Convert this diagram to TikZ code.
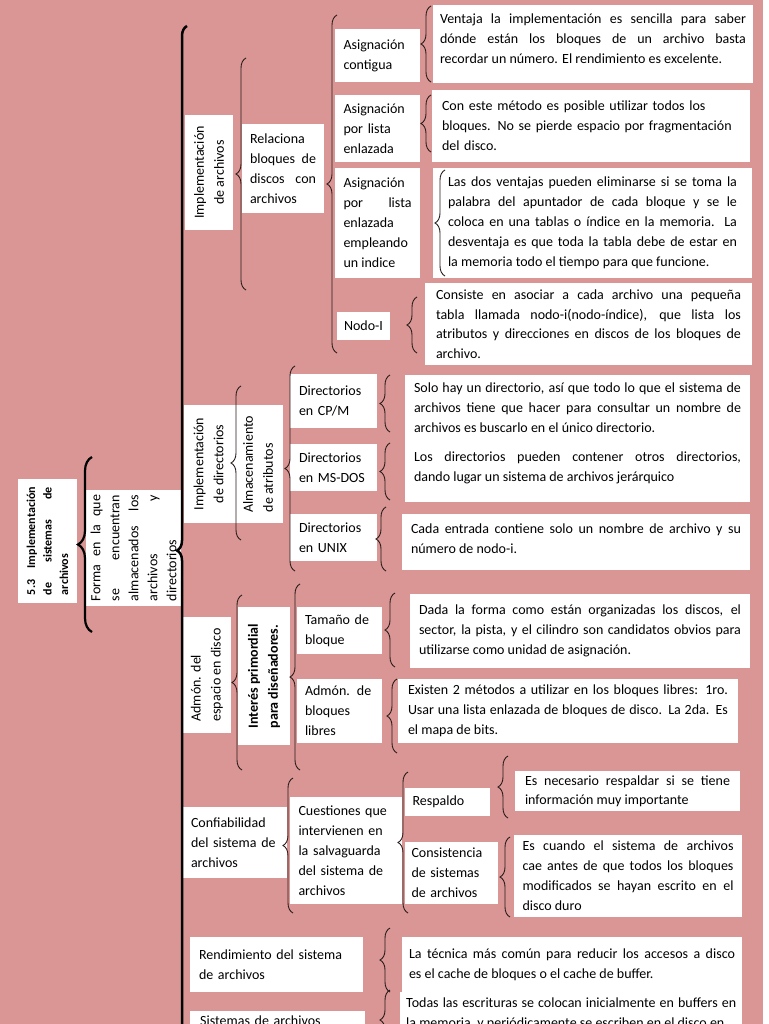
\documentclass[tikz,border=0pt]{standalone}
\usepackage{fontspec}
\setmainfont{Carlito}
\usetikzlibrary{decorations.pathreplacing}
\definecolor{rosa}{RGB}{217,150,148}
\definecolor{trazo}{RGB}{40,28,28}
\tikzset{
  caja/.style={fill=white, inner xsep=2pt, inner ysep=1pt, font=\fontsize{14}{20}\selectfont},
  just/.style={align=justify},
  izq/.style={align=left},
  llave/.style={decorate, decoration={brace, amplitude=#1}, draw=trazo, line width=0.9pt},
  llave/.default=10pt
}

\begin{document}
\begin{tikzpicture}[x=1pt,y=-1pt]
  \useasboundingbox (0,0) rectangle (768,1024);
  \clip (0,0) rectangle (768,1024);
  \fill[white] (0,0) rectangle (768,1024);
  \fill[rosa] (0,0) rectangle (763,1024);

  % Tema principal
  \node[caja, rotate=90, just, minimum width=124pt, minimum height=59pt, text width=108pt,
        font=\bfseries\fontsize{12}{16.5}\selectfont] (raiz) at (47.5,541)
        {5.3 Implementación\linebreak de sistemas de\linebreak archivos};
  \node[caja, rotate=90, just, minimum width=116pt, minimum height=95pt, text width=106pt,
        font=\fontsize{14}{19}\selectfont] (forma) at (133.5,548)
        {Forma en la que\linebreak se encuentran\linebreak almacenados los\linebreak archivos y\linebreak directorios};

  % Implementacion de archivos
  \node[caja, rotate=90, align=center, minimum width=115pt, minimum height=48pt] (impArch) at (209,172.5)
        {Implementación\\de archivos};
  \node[caja, just, minimum width=82pt, minimum height=89pt, text width=66pt] (relac) at (283,168.5)
        {Relaciona\linebreak bloques de\linebreak discos con\linebreak archivos};
  \node[caja, izq, minimum width=85pt, minimum height=53pt, text width=68pt] (asigCont) at (377.5,55.5)
        {Asignación\\contigua};
  \node[caja, just, minimum width=320pt, minimum height=78pt, text width=306pt] (descCont) at (593,44)
        {Ventaja la implementación es sencilla para saber\linebreak dónde están los bloques de un archivo basta\linebreak recordar un número. El rendimiento es excelente.\par\kern10pt};
  \node[caja, izq, minimum width=85pt, minimum height=67pt, text width=68pt] (asigLista) at (377.5,128.5)
        {Asignación\\por lista\\enlazada};
  \node[caja, izq, minimum width=318pt, minimum height=72pt, text width=298pt] (descLista) at (591,126)
        {Con este método es posible utilizar todos los\\bloques. No se pierde espacio por fragmentación\\del disco.};
  \node[caja, just, minimum width=85pt, minimum height=110pt, text width=68pt] (asigIndice) at (377.5,223)
        {Asignación\linebreak por lista\linebreak enlazada\linebreak empleando\linebreak un indice};
  \node[caja, just, minimum width=319pt, minimum height=110pt, text width=289pt] (descIndice) at (592.5,223)
        {Las dos ventajas pueden eliminarse si se toma la\linebreak palabra del apuntador de cada bloque y se le\linebreak coloca en una tablas o índice en la memoria. La\linebreak desventaja es que toda la tabla debe de estar en\linebreak la memoria todo el tiempo para que funcione.};
  \node[caja, minimum width=53pt, minimum height=28pt] (nodoI) at (363.5,326) {Nodo-I};
  \node[caja, just, minimum width=327pt, minimum height=82pt, text width=305pt,
        font=\fontsize{14}{19.5}\selectfont] (descNodo) at (588.5,324)
        {Consiste en asociar a cada archivo una pequeña\linebreak tabla llamada nodo-i(nodo-índice), que lista los\linebreak atributos y direcciones en discos de los bloques de\linebreak archivo.};

  % Implementacion de directorios
  \node[caja, rotate=90, align=center, minimum width=118pt, minimum height=49pt] (impDir) at (208.5,464)
        {Implementación\\de directorios};
  \node[caja, rotate=90, align=left, minimum width=118pt, minimum height=50pt] (almac) at (258,464)
        {Almacenamiento\\de atributos};
  \node[caja, izq, minimum width=87pt, minimum height=54pt, text width=69pt] (dirCPM) at (333.5,401)
        {Directorios\\en CP/M};
  \node[caja, izq, minimum width=87pt, minimum height=47pt, text width=69pt] (dirMS) at (333.5,467.5)
        {Directorios\\en MS-DOS};
  \node[caja, izq, minimum width=87pt, minimum height=47pt, text width=69pt] (dirUnix) at (333.5,537.5)
        {Directorios\\en UNIX};
  \node[caja, just, minimum width=345pt, minimum height=127pt, text width=327pt] (descDir) at (577.5,438.5)
        {Solo hay un directorio, así que todo lo que el sistema de\linebreak archivos tiene que hacer para consultar un nombre de\linebreak archivos es buscarlo en el único directorio.\\[9pt]
         Los directorios pueden contener otros directorios,\linebreak dando lugar un sistema de archivos jerárquico\par\kern10pt};
  \node[caja, just, minimum width=348pt, minimum height=56pt, text width=330pt] (descUnix) at (576,542)
        {Cada entrada contiene solo un nombre de archivo y su\linebreak número de nodo-i.\par\kern6pt};

  % Admon. del espacio en disco
  \node[caja, rotate=90, align=left, minimum width=116pt, minimum height=48pt] (admon) at (207,675)
        {Admón. del\\espacio en disco};
  \node[caja, rotate=90, align=left, minimum width=138pt, minimum height=52pt,
        font=\bfseries\fontsize{14}{20}\selectfont] (interes) at (264,676)
        {Interés primordial\\para diseñadores.};
  \node[caja, izq, minimum width=85pt, minimum height=47pt, text width=69pt] (tamBloque) at (339.5,630.5)
        {Tamaño de\\bloque};
  \node[caja, just, minimum width=340pt, minimum height=74pt, text width=322pt] (descTam) at (580,631)
        {Dada la forma como están organizadas los discos, el\linebreak sector, la pista, y el cilindro son candidatos obvios para\linebreak utilizarse como unidad de asignación.};
  \node[caja, izq, minimum width=85pt, minimum height=64pt, text width=69pt] (admBloques) at (339.5,711)
        {Admón. de\\bloques\\libres};
  \node[caja, just, minimum width=340pt, minimum height=64pt, text width=320pt] (descBloques) at (568,711)
        {Existen 2 métodos a utilizar en los bloques libres: 1ro.\linebreak Usar una lista enlazada de bloques de disco. La 2da. Es\linebreak el mapa de bits.};

  % Confiabilidad
  \node[caja, izq, minimum width=104pt, minimum height=71pt, text width=88pt] (confiab) at (235,842.5)
        {Confiabilidad\\del sistema de\\archivos};
  \node[caja, izq, minimum width=112pt, minimum height=107pt, text width=95pt] (cuestiones) at (346,850.5)
        {Cuestiones que\\intervienen en\\la salvaguarda\\del sistema de\\archivos};
  \node[caja, izq, minimum width=85pt, minimum height=28pt, text width=70pt] (respaldo) at (447.5,802)
        {Respaldo};
  \node[caja, just, minimum width=225pt, minimum height=40pt, text width=205pt,
        font=\fontsize{14}{19}\selectfont] (descResp) at (627.5,791)
        {Es necesario respaldar si se tiene\linebreak información muy importante};
  \node[caja, izq, minimum width=93pt, minimum height=62pt, text width=80pt] (consist) at (451.5,873)
        {Consistencia\\de sistemas\\de archivos};
  \node[caja, just, minimum width=228pt, minimum height=82pt, text width=211pt] (descConsist) at (628,876)
        {Es cuando el sistema de archivos\linebreak cae antes de que todos los bloques\linebreak modificados se hayan escrito en el\linebreak disco duro};

  % Rendimiento
  \node[caja, izq, minimum width=173pt, minimum height=55pt, text width=155pt] (rendim) at (276.5,964.5)
        {Rendimiento del sistema\\de archivos};
  \node[caja, just, minimum width=340pt, minimum height=55pt, text width=326pt] (descRend) at (572,964.5)
        {La técnica más común para reducir los accesos a disco\linebreak es el cache de bloques o el cache de buffer.};
  \node[caja, izq, anchor=north west, minimum width=175pt, text width=155pt, inner ysep=5pt] (sistemas) at (190,1011)
        {Sistemas de archivos};
  \node[caja, just, anchor=north west, minimum width=342pt, text width=330pt, inner ysep=6pt] (descTodas) at (400,992)
        {Todas las escrituras se colocan inicialmente en buffers en\linebreak la memoria, y periódicamente se escriben en el disco en};

  % Llaves
  \draw[llave=14pt, draw=black, line width=2.2pt] (92,632) -- (92,457);
  \draw[llave=10pt, draw=black, line width=2.5pt] (187,1075) -- (187,26);
  \draw[llave] (246,290) -- (246,58);
  \draw[llave] (337,353) -- (337,15);
  \draw[llave] (431,82) -- (431,6);
  \draw[llave] (431,152) -- (431,95);
  \draw[llave] (445,276) -- (445,170);
  \draw[llave] (417,353) -- (417,297);
  \draw[llave] (241,540) -- (241,386);
  \draw[llave] (295,571) -- (295,366);
  \draw[llave] (390,432) -- (390,375);
  \draw[llave] (390,500) -- (390,443);
  \draw[llave] (386,571) -- (386,507);
  \draw[llave] (242,770) -- (242,595);
  \draw[llave] (300,770) -- (300,584);
  \draw[llave] (395,667) -- (395,593);
  \draw[llave] (397,753) -- (397,679);
  \draw[llave] (293,913) -- (293,778);
  \draw[llave] (408,913) -- (408,772);
  \draw[llave] (508,818) -- (508,756);
  \draw[llave] (510,917) -- (510,837);
  \draw[llave] (390,992) -- (390,928);
  \draw[llave] (390,1050) -- (390,990);
\end{tikzpicture}
\end{document}
